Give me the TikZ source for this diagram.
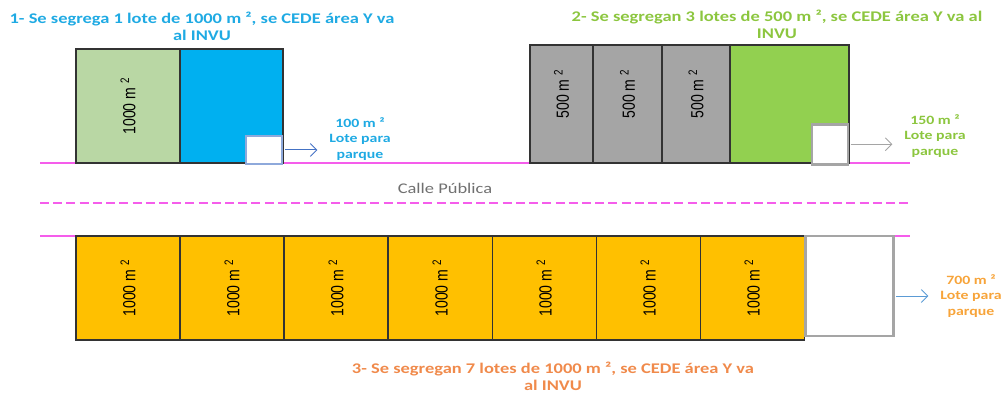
\documentclass[tikz,border=0pt]{standalone}
\usepackage{fontspec}
\setmainfont{Carlito}[FakeStretch=1.25]
\newfontfamily\arialf{Liberation Sans}
\usepackage{graphicx}
\usetikzlibrary{arrows.meta,positioning,calc}
\definecolor{road}{HTML}{F55DEB}
\definecolor{lotgreen}{HTML}{B9D7A4}
\definecolor{lotcyan}{HTML}{00B0F0}
\definecolor{lotgray}{HTML}{A5A5A5}
\definecolor{lotlime}{HTML}{92D050}
\definecolor{lotyellow}{HTML}{FFC000}
\definecolor{headcyan}{HTML}{1FAAE3}
\definecolor{headgreen}{HTML}{8CC63F}
\definecolor{headorange}{HTML}{F08A4B}
\definecolor{parkorange}{HTML}{F7A43A}
\definecolor{arrblue}{HTML}{4472C4}
\definecolor{arrblue2}{HTML}{5B9BD5}
\definecolor{boxblue}{HTML}{8EA9DB}
\definecolor{streetgray}{HTML}{707070}
\newcommand{\lotlabel}[1]{\rotatebox{90}{\scalebox{1}[1.25]{\arialf\fontsize{10}{12}\selectfont #1 m \textsuperscript{2}}}}

\begin{document}
\begin{tikzpicture}[
  x=0.025cm, y=-0.025cm,
  lot/.style={draw=black!80,line width=0.85pt,inner sep=0pt,outer sep=0pt},
  parkbox/.style={fill=white,line width=1.4pt,inner sep=0pt,outer sep=0pt},
  parktext/.style={align=center,font=\fontsize{9}{11}\selectfont\bfseries},
  head/.style={align=center,font=\fontsize{10.5}{12.3}\selectfont\bfseries},
  roadline/.style={road,line width=1.6pt},
  arr/.style={-{Straight Barb[length=1.6mm]},line width=0.7pt,shorten <=2pt,shorten >=5pt}
]
\useasboundingbox (0,0) rectangle (1005,393);

% Street lines
\coordinate (r1w) at (40,163);  \coordinate (r1e) at (910,163);
\coordinate (r2w) at (40,203);  \coordinate (r2e) at (910,203);
\coordinate (r3w) at (40,236);  \coordinate (r3e) at (910,236);
\draw[roadline] (r1w) -- (r1e);
\draw[roadline,line width=2.1pt,dash pattern=on 6.4pt off 3pt] (r2w) -- (r2e);
\draw[roadline,line width=1pt] (r3w) -- (r3e);
\node[font=\fontsize{10.5}{13}\selectfont,text=streetgray] (calle) at (445,188) {Calle Pública};

% 1: one lot of 1000 m2
\node[head,text=headcyan] (h1) at (202,26) {1- Se segrega 1 lote de 1000 m ², se CEDE área Y va\\al INVU};
\node[lot,fill=lotgreen,minimum width=2.6cm,minimum height=2.85cm,anchor=south west] (a1) at (76,163) {\lotlabel{1000}};
\node[lot,fill=lotcyan,minimum width=2.575cm,minimum height=2.85cm,right=0pt of a1] (a2) {};
\node[parkbox,draw=boxblue,minimum width=0.9cm,minimum height=0.7cm,anchor=south east] (p1) at ($(a2.south east)+(-0.7pt,-0.7pt)$) {};
\node[parktext,text=headcyan] (t1) at (360,139) {100 m ²\\Lote para\\parque};
\draw[arr,arrblue] (p1) -- (p1 -| t1.west);

% 2: three lots of 500 m2
\node[head,text=headgreen] (h2) at (777,24) {2- Se segregan 3 lotes de 500 m ², se CEDE área Y va al\\INVU};
\node[lot,fill=lotgray,minimum width=1.575cm,minimum height=2.95cm,anchor=south west] (b1) at (530,163) {\lotlabel{\hspace*{0.5cm}500}};
\node[lot,fill=lotgray,minimum width=1.725cm,minimum height=2.95cm,right=0pt of b1] (b2) {\lotlabel{\hspace*{0.5cm}500}};
\node[lot,fill=lotgray,minimum width=1.7cm,minimum height=2.95cm,right=0pt of b2] (b3) {\lotlabel{\hspace*{0.5cm}500}};
\node[lot,fill=lotlime,minimum width=2.975cm,minimum height=2.95cm,right=0pt of b3] (b4) {};
\node[parkbox,draw=lotgray,line width=1.8pt,minimum width=0.9cm,minimum height=1.0cm,anchor=south east] (p2) at ($(b4.south east)+(-0.9pt,-0.9pt)$) {};
\node[parktext,text=headgreen] (t2) at (935,136) {150 m ²\\Lote para\\parque};
\draw[arr,lotgray] (p2) -- (p2 -| t2.west);

% 3: seven lots of 1000 m2
\node[lot,fill=lotyellow,minimum width=2.6cm,minimum height=2.6cm,anchor=north west] (c1) at (76,236) {\lotlabel{1000}};
\node[lot,fill=lotyellow,minimum width=2.6cm,minimum height=2.6cm,right=0pt of c1] (c2) {\lotlabel{1000}};
\node[lot,fill=lotyellow,minimum width=2.6cm,minimum height=2.6cm,right=0pt of c2] (c3) {\lotlabel{1000}};
\node[lot,fill=lotyellow,minimum width=2.6cm,minimum height=2.6cm,right=0pt of c3] (c4) {\lotlabel{1000}};
\node[lot,fill=lotyellow,minimum width=2.6cm,minimum height=2.6cm,right=0pt of c4] (c5) {\lotlabel{1000}};
\node[lot,fill=lotyellow,minimum width=2.6cm,minimum height=2.6cm,right=0pt of c5] (c6) {\lotlabel{1000}};
\node[lot,fill=lotyellow,minimum width=2.6cm,minimum height=2.6cm,right=0pt of c6] (c7) {\lotlabel{1000}};
\node[parkbox,draw=lotgray,line width=1.8pt,minimum width=2.2cm,minimum height=2.5cm,anchor=north west] (c8) at ($(c7.north east)+(0.9pt,0pt)$) {};
\node[parktext,text=parkorange] (t3) at (971,296) {700 m ²\\Lote para\\parque};
\draw[arr,arrblue2] (c8.east |- t3) -- (t3);
\node[head,text=headorange] (h3) at (553,376) {3- Se segregan 7 lotes de 1000 m ², se CEDE área Y va\\al INVU};
\end{tikzpicture}
\end{document}
